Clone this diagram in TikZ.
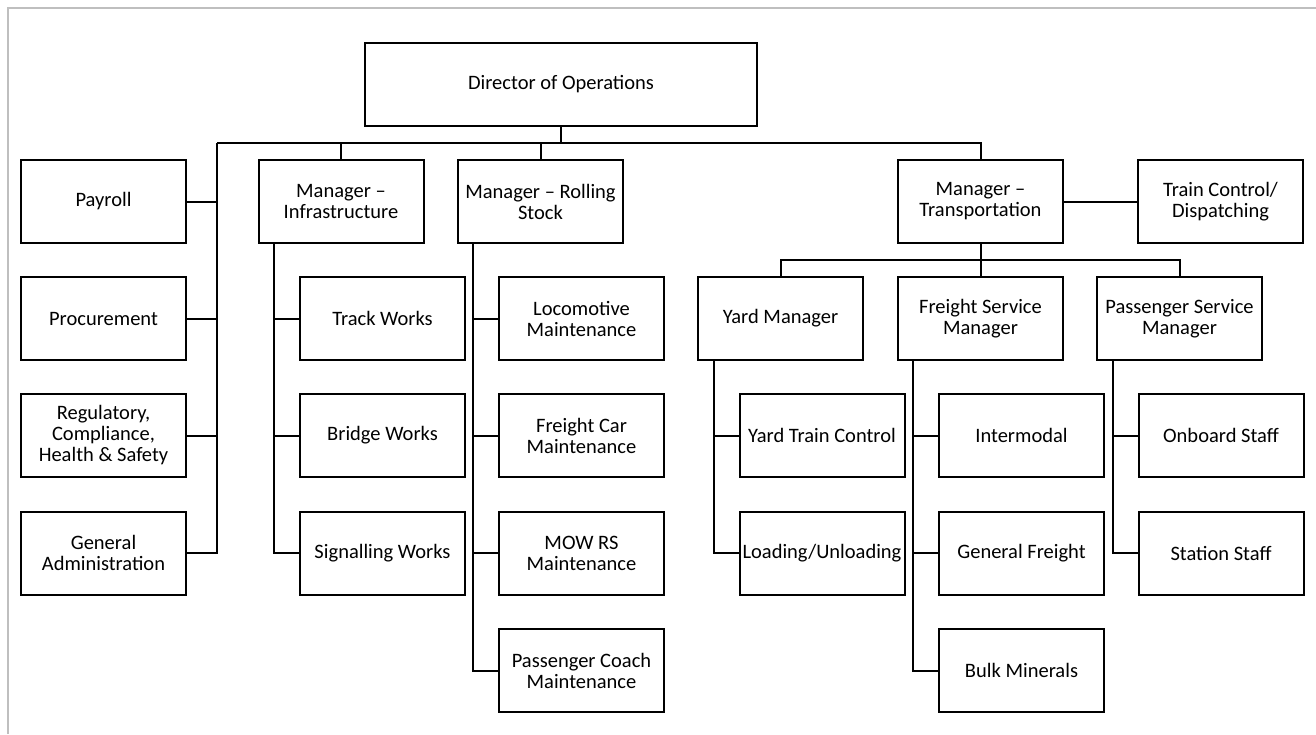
\documentclass[tikz,border=0pt]{standalone}
\usepackage{fontspec}
\setmainfont{Carlito}

\begin{document}
\begin{tikzpicture}[x=1pt,y=-1pt,
  box/.style={draw, line width=2pt, minimum width=165pt, minimum height=83pt,
    inner sep=0pt, align=center, font=\fontsize{20.5}{21}\selectfont},
  tie/.style={line width=2pt}]
\useasboundingbox (0,0) rectangle (1316,734);
\draw[black!25, line width=2pt] (8,734) -- (8,8) -- (1316,8);

\node[box, minimum width=392pt] (dir) at (561,84.5) {Director of Operations};

\node[box] (payroll) at (103.5,201.5) {Payroll};
\node[box] (procure) at (103.5,318.5) {Procurement};
\node[box] (regul) at (103.5,435.5) {Regulatory,\\Compliance,\\Health \& Safety};
\node[box] (genadmin) at (103.5,553) {General\\Administration};

\node[box] (infra) at (341,201.5) {Manager –\\Infrastructure};
\node[box] (track) at (382.5,318.5) {Track Works};
\node[box] (bridge) at (382.5,435.5) {Bridge Works};
\node[box] (signal) at (382.5,553) {Signalling Works};

\node[box] (rolling) at (540.5,201.5) {Manager – Rolling\\Stock};
\node[box] (loco) at (581.5,318.5) {Locomotive\\Maintenance};
\node[box] (freightcar) at (581.5,435.5) {Freight Car\\Maintenance};
\node[box] (mowrs) at (581.5,553) {MOW RS\\Maintenance};
\node[box] (coach) at (581.5,670.5) {Passenger Coach\\Maintenance};

\node[box] (trans) at (980.5,201.5) {Manager –\\Transportation};
\node[box] (trainctl) at (1220.5,201.5) {Train Control/\\Dispatching};

\node[box] (yard) at (780.5,318.5) {Yard Manager};
\node[box] (yardctl) at (822,435.5) {Yard Train Control};
\node[box] (loading) at (822,553) {Loading/Unloading};

\node[box] (freight) at (980.5,318.5) {Freight Service\\Manager};
\node[box] (intermodal) at (1021.5,435.5) {Intermodal};
\node[box] (genfreight) at (1021.5,553) {General Freight};
\node[box] (bulk) at (1021.5,670.5) {Bulk Minerals};

\node[box] (pass) at (1179.5,318.5) {Passenger Service\\Manager};
\node[box] (onboard) at (1221,435.5) {Onboard Staff};
\node[box] (station) at (1221,553) {Station Staff};

% top bus
\coordinate (bus) at (217,143);
\draw[tie] (dir.south) -- (dir.south |- bus);
\draw[tie] (bus) -| (trans.north);
\draw[tie] (infra.north) -- (infra.north |- bus);
\draw[tie] (rolling.north) -- (rolling.north |- bus);
\draw[tie] (trans.east) -- (trainctl.west);

% support functions
\draw[tie] (bus) |- (genadmin.east);
\draw[tie] (payroll.east) -| (bus);
\draw[tie] (procure.east) -| (bus);
\draw[tie] (regul.east) -| (bus);

% infrastructure
\draw[tie] ([xshift=16pt]infra.south west) |- (signal.west);
\draw[tie] ([xshift=16pt]infra.south west) |- (track.west);
\draw[tie] ([xshift=16pt]infra.south west) |- (bridge.west);

% rolling stock
\draw[tie] ([xshift=16pt]rolling.south west) |- (coach.west);
\draw[tie] ([xshift=16pt]rolling.south west) |- (loco.west);
\draw[tie] ([xshift=16pt]rolling.south west) |- (freightcar.west);
\draw[tie] ([xshift=16pt]rolling.south west) |- (mowrs.west);

% transportation
\coordinate (tbus) at (980.5,260);
\draw[tie] (trans.south) -- (freight.north);
\draw[tie] (yard.north) |- (tbus) -| (pass.north);

\draw[tie] ([xshift=17pt]yard.south west) |- (loading.west);
\draw[tie] ([xshift=17pt]yard.south west) |- (yardctl.west);

\draw[tie] ([xshift=16pt]freight.south west) |- (bulk.west);
\draw[tie] ([xshift=16pt]freight.south west) |- (intermodal.west);
\draw[tie] ([xshift=16pt]freight.south west) |- (genfreight.west);

\draw[tie] ([xshift=17pt]pass.south west) |- (station.west);
\draw[tie] ([xshift=17pt]pass.south west) |- (onboard.west);
\end{tikzpicture}
\end{document}
